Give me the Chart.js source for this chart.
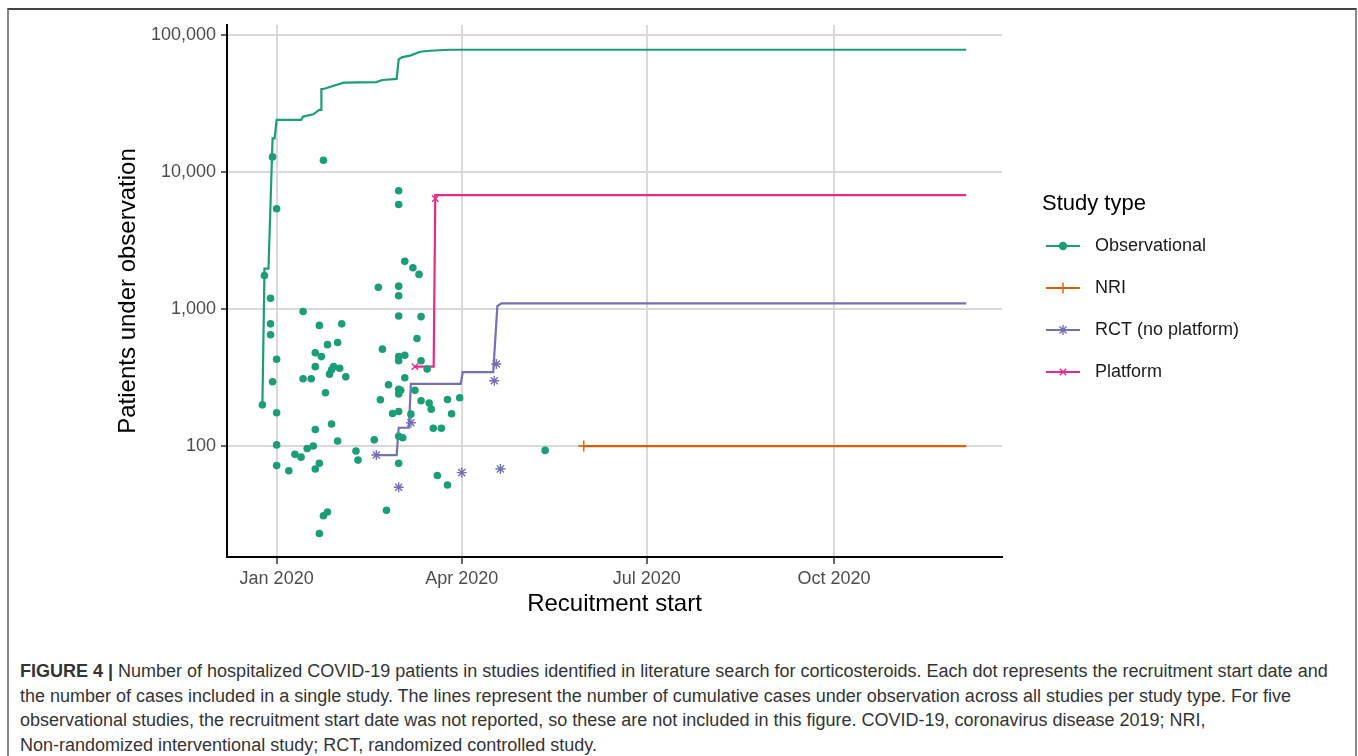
<!DOCTYPE html>
<html>
<head>
<meta charset="utf-8">
<script src="https://cdn.jsdelivr.net/npm/chart.js@4.4.1/dist/chart.umd.min.js"></script>
<style>
  html, body { margin: 0; padding: 0; background: #fff; }
  body { width: 1358px; height: 756px; position: relative; overflow: hidden; font-family: 'Liberation Sans', Arial, sans-serif; }
  .frame { position: absolute; left: 7px; top: 8px; width: 1346px; height: 800px; border-top: 2px solid #444; border-left: 2px solid #8a8a8a; border-right: 2px solid #8a8a8a; }
  #chart { position: absolute; left: 0; top: 0; }
  .caption { position: absolute; left: 20px; top: 659px; font-size: 18px; line-height: 24.7px; color: #333; white-space: nowrap; }
</style>
</head>
<body>
<div class="frame"></div>
<canvas id="chart" width="1358" height="640"></canvas>
<div class="caption">
  <b>FIGURE 4 |</b> Number of hospitalized COVID-19 patients in studies identified in literature search for corticosteroids. Each dot represents the recruitment start date and<br>
  the number of cases included in a single study. The lines represent the number of cumulative cases under observation across all studies per study type. For five<br>
  observational studies, the recruitment start date was not reported, so these are not included in this figure. COVID-19, coronavirus disease 2019; NRI,<br>
  Non-randomized interventional study; RCT, randomized controlled study.
</div>
<script>
// x values are days counted from 1 Jan 2020
const xTickDays = [0, 91, 182, 274];
const xTickLabels = ['Jan 2020', 'Apr 2020', 'Jul 2020', 'Oct 2020'];
const yTicks = [100, 1000, 10000, 100000];

// single studies
const obsDay = [-7, -6, -2, 0, 23, 60, 60, 63, 67, 70, 50, 60, 60, -3, 13, 60, 71, -3, 21, 32,
  -3, 69, 25, 30, 52, 19, 22, 60, 63, 0, 60, 71, 19, 28, 31, 27, 74, 26, 13, 17,
  34, 63, -2, 55, 60, 61, 60, 68, 24, 51, 71, 75, 76, 84, 90, 0, 57, 60, 66, 86,
  77, 81, 19, 27, 30, 48, 0, 15, 18, 9, 12, 39, 40, 60, 62, 0, 6, 19, 21, 60,
  79, 84, 54, 23, 25, 21, 132];
const obsPatients = [200, 1760, 12900, 5400, 12200, 7300, 5800, 2230, 2000, 1790, 1440, 1470, 1250, 1200, 960, 890, 880, 780, 760, 780,
  650, 610, 550, 570, 510, 480, 450, 450, 460, 430, 420, 420, 380, 380, 370, 360, 365, 335, 310, 310,
  320, 315, 295, 280, 260, 255, 240, 255, 245, 218, 214, 206, 186, 219, 225, 175, 173, 179, 171, 172,
  135, 135, 132, 145, 109, 111, 102, 96, 100, 87, 83, 92, 79, 118, 115, 72, 66, 68, 75, 75,
  61, 52, 34, 31, 33, 23, 93];
const nriDay = [151];
const nriPatients = [100];
const rctDay = [49, 60, 66, 91, 107, 108, 110];
const rctPatients = [86, 50, 148, 64, 300, 397, 68];
const platformDay = [68, 78];
const platformPatients = [380, 6400];

// cumulative patients under observation
const obsCumDay = [-7, -6, -6, -4, -2, -1, 0, 12, 13, 18, 21, 22, 22, 23, 33, 49, 52, 59, 60, 61.5, 66, 70.5, 75.5, 85, 339];
const obsCumPatients = [200, 1770, 1970, 1970, 17600, 17600, 24000, 24000, 25400, 26400, 28400, 28400, 40400, 40400, 44900, 45400, 47000, 47800, 66500, 68800, 71100, 75500, 76800, 78100, 78100];
const nriCumDay = [151, 339];
const nriCumPatients = [100, 100];
const rctCumDay = [49, 59, 60, 65, 66, 90.5, 91.5, 106.5, 108.5, 110.5, 339];
const rctCumPatients = [86, 86, 136, 136, 284, 284, 347, 347, 1050, 1100, 1100];
const platformCumDay = [68, 77.2, 78, 339];
const platformCumPatients = [380, 380, 6790, 6790];

const obsColor = '#1B9E77';
const nriColor = '#D95F02';
const rctColor = '#7570B3';
const platformColor = '#E7298A';

const pts = (xs, ys) => xs.map((x, i) => ({ x: x, y: ys[i] }));
const fontFamily = '"Liberation Sans", Arial, sans-serif';

const legendItems = [
    { label: 'Observational', color: obsColor, style: 'circle', radius: 3.5 },
    { label: 'NRI', color: nriColor, style: 'cross', radius: 5.5 },
    { label: 'RCT (no platform)', color: rctColor, style: 'star', radius: 5 },
    { label: 'Platform', color: platformColor, style: 'crossRot', radius: 4.5 },
];

const studyLegend = {
    id: 'studyLegend',
    afterDraw(chart) {
        const ctx = chart.ctx;
        const left = chart.chartArea.right + 40;
        ctx.save();
        ctx.textBaseline = 'middle';
        ctx.fillStyle = '#000';
        ctx.font = '22px ' + fontFamily;
        ctx.fillText('Study type', left, 204);
        legendItems.forEach((item, i) => {
            const y = 246 + i * 42;
            ctx.strokeStyle = item.color;
            ctx.lineWidth = 2;
            ctx.beginPath();
            ctx.moveTo(left + 4, y);
            ctx.lineTo(left + 38, y);
            ctx.stroke();
            ctx.fillStyle = item.color;
            ctx.lineWidth = 1.4;
            Chart.helpers.drawPoint(ctx, { pointStyle: item.style, radius: item.radius, rotation: 0, borderWidth: 1.4 }, left + 21, y);
            ctx.fillStyle = '#1a1a1a';
            ctx.font = '18px ' + fontFamily;
            ctx.fillText(item.label, left + 53, y);
        });
        ctx.restore();
    },
};

const lineSet = (data, color) => ({
    type: 'line',
    data: data,
    borderColor: color,
    borderWidth: 2.2,
    pointRadius: 0,
    fill: false,
    tension: 0,
});
const markSet = (data, color, style, radius) => ({
    type: 'scatter',
    data: data,
    pointStyle: style,
    pointRadius: radius,
    pointBackgroundColor: color,
    pointBorderColor: color,
    pointBorderWidth: style === 'circle' ? 0 : 1.4,
});

new Chart(document.getElementById('chart').getContext('2d'), {
    data: {
        datasets: [
            markSet(pts(obsDay, obsPatients), obsColor, 'circle', 3.8),
            markSet(pts(nriDay, nriPatients), nriColor, 'cross', 5.5),
            markSet(pts(rctDay, rctPatients), rctColor, 'star', 5),
            markSet(pts(platformDay, platformPatients), platformColor, 'crossRot', 4.5),
            lineSet(pts(obsCumDay, obsCumPatients), obsColor),
            lineSet(pts(nriCumDay, nriCumPatients), nriColor),
            lineSet(pts(rctCumDay, rctCumPatients), rctColor),
            lineSet(pts(platformCumDay, platformCumPatients), platformColor),
        ],
    },
    options: {
        responsive: false,
        animation: false,
        layout: { padding: { left: 0, top: 25, right: 356, bottom: 0 } },
        plugins: {
            legend: { display: false },
            tooltip: { enabled: false },
        },
        scales: {
            x: {
                type: 'linear',
                min: -24.4,
                max: 356.6,
                afterBuildTicks: (scale) => {
                    scale.ticks = xTickDays.map((v) => ({ value: v }));
                },
                afterFit: (scale) => {
                    scale.height = 83;
                },
                ticks: {
                    callback: (value, index) => xTickLabels[index],
                    font: { size: 18, family: fontFamily },
                    color: '#4d4d4d',
                    padding: 4,
                    maxRotation: 0,
                    autoSkip: false,
                },
                grid: { color: '#d9d9d9', lineWidth: 2, tickLength: 7, tickColor: '#333', tickWidth: 1.5 },
                border: { color: '#000', width: 2 },
                title: {
                    display: true,
                    text: 'Recuitment start',
                    color: '#000',
                    font: { size: 24, family: fontFamily },
                    padding: { top: 0, bottom: 21 },
                },
            },
            y: {
                type: 'logarithmic',
                min: 15.5,
                max: 118400,
                afterBuildTicks: (scale) => {
                    scale.ticks = yTicks.map((v) => ({ value: v }));
                },
                afterFit: (scale) => {
                    scale.width = 227;
                },
                ticks: {
                    callback: (value) => Number(value).toLocaleString('en-US'),
                    font: { size: 18, family: fontFamily },
                    color: '#4d4d4d',
                    padding: 5,
                },
                grid: { color: '#d9d9d9', lineWidth: 2, tickLength: 6, tickColor: '#333', tickWidth: 1.5 },
                border: { color: '#000', width: 2 },
                title: {
                    display: true,
                    text: 'Patients under observation',
                    color: '#000',
                    font: { size: 24, family: fontFamily },
                    padding: { top: 114, bottom: 0 },
                },
            },
        },
    },
    plugins: [studyLegend],
});
</script>
</body>
</html>
